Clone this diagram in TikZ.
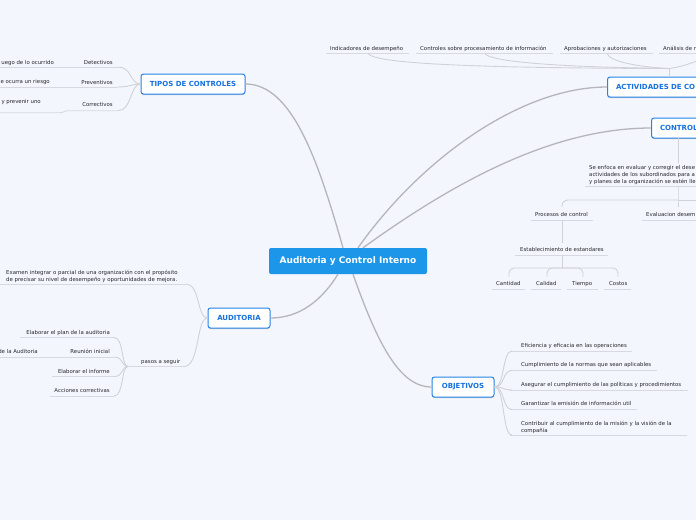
\documentclass[tikz,border=0pt]{standalone}
\usepackage{fontspec}
\setmainfont{DejaVu Sans}
\usetikzlibrary{shadows}
\definecolor{bgc}{RGB}{243,246,253}
\definecolor{cblue}{RGB}{27,150,232}
\definecolor{tborder}{RGB}{38,132,230}
\definecolor{ttext}{RGB}{22,112,222}
\definecolor{ltext}{RGB}{40,40,45}
\definecolor{ulc}{RGB}{214,217,225}
\definecolor{cmain}{RGB}{182,182,186}
\definecolor{csub}{RGB}{208,210,216}
\begin{document}
\begin{tikzpicture}[x=1pt,y=-1pt,
  centernode/.style={fill=cblue, rounded corners=2pt, text=white, font=\fontsize{9}{11}\selectfont\bfseries, minimum width=158pt, minimum height=26pt, inner sep=0pt},
  topic/.style={draw=tborder, line width=1pt, fill=white, rounded corners=2.5pt, text=ttext, font=\fontsize{7}{8}\selectfont\bfseries, minimum height=20pt, inner xsep=8.5pt, inner ysep=0pt, drop shadow={shadow xshift=0pt, shadow yshift=-1.2pt, fill=black, opacity=0.18}},
  lbl/.style={font=\fontsize{5.4}{6.8}\selectfont, text=ltext, inner sep=0pt, yshift=-0.8pt},
  uline/.style={draw=ulc, line width=0.9pt},
  conn/.style={draw=cmain, line width=1.3pt},
  sconn/.style={draw=csub, line width=0.9pt}]
\useasboundingbox (0,0) rectangle (696,520);
\clip (0,0) rectangle (696,520);
\fill[bgc] (0,0) rectangle (696,520);

% ---------- main nodes
\node[centernode] (C) at (348,261) {Auditoria y Control Interno};
\node[topic, minimum width=104pt] (T) at (193,84) {TIPOS DE CONTROLES};
\node[topic, minimum width=62pt] (A) at (239,318) {AUDITORIA};
\node[topic, minimum width=62pt] (O) at (463,387) {OBJETIVOS};
\node[topic, anchor=west, text width=100pt, align=left] (AC) at (607,87) {ACTIVIDADES DE CO};
\node[topic, anchor=west, text width=60pt, align=left] (CO) at (651,128) {CONTROL};

% ---------- main connectors
\draw[conn] ([xshift=-5pt]C.north) .. controls (318,160) and (292,84) .. (T.east);
\draw[conn] ([xshift=10pt]C.north) .. controls (420,160) and (520,87) .. (AC.west);
\draw[conn] ([xshift=15pt]C.north) .. controls (450,185) and (550,128) .. (CO.west);
\draw[conn] ([xshift=-10pt]C.south) .. controls (322,300) and (300,318) .. (A.east);
\draw[conn] ([xshift=5pt]C.south) .. controls (378,345) and (400,387) .. (O.west);

% ---------- ACTIVIDADES DE CONTROL children
\node[lbl, anchor=base west] (L1) at (330,49.5) {Indicadores de desempeño};
\node[lbl, anchor=base west] (L2) at (420,49.5) {Controles sobre procesamiento de información};
\node[lbl, anchor=base west] (L3) at (564,49.5) {Aprobaciones y autorizaciones};
\node[lbl, anchor=base west] (L4) at (663,49.5) {Análisis de r};
\draw[uline] (326,53.5) -- (409,53.5);
\draw[uline] (416,53.5) -- (553,53.5);
\draw[uline] (560,53.5) -- (653,53.5);
\draw[uline] (659,53.5) -- (700,53.5);
\coordinate (L1c) at (368,53.5);
\coordinate (L2c) at (485,53.5);
\coordinate (L3c) at (607,53.5);
\coordinate (L4c) at (720,53.5);
\coordinate (ACt) at (669,77);
\coordinate (J1) at (669,68.5);
\draw[sconn] (ACt) -- (J1);
\draw[sconn] (J1) .. controls (480,68) and (375,64) .. (L1c);
\draw[sconn] (J1) .. controls (560,67) and (490,62) .. (L2c);
\draw[sconn] (J1) .. controls (640,67) and (610,62) .. (L3c);
\draw[sconn] (J1) .. controls (690,66) and (705,56) .. (L4c);

% ---------- CONTROL children
\coordinate (COb) at (678,138);
\coordinate (Pt) at (678,163);
\node[lbl, anchor=north west, align=left] (P) at (589,164.5) {Se enfoca en evaluar y corregir el dese\\actividades de los subordinados para a\\y planes de la organización se estén lle};
\draw[uline] (585,186) -- (700,186);
\draw[sconn] (COb) -- (Pt);
\coordinate (Pb) at (678,186);
\coordinate (J2) at (678,200);
\coordinate (PRt) at (562,207);
\coordinate (EVt) at (678,207);
\coordinate (Rt) at (700,200);
\draw[sconn] (Pb) -- (J2) -- (EVt);
\draw[sconn] (J2) -- (Rt);
\draw[sconn, rounded corners=6pt] (J2) -- (562,200) -- (PRt);
\node[lbl, anchor=base west] (PR) at (535,215.5) {Procesos de control};
\node[lbl, anchor=base west] (EV) at (646,215.5) {Evaluacion desem};
\draw[uline] (531,220) -- (593,220);
\draw[uline] (642,220) -- (700,220);
\coordinate (PRb) at (562,220);
\coordinate (ESt) at (562,243);
\draw[sconn] (PRb) -- (ESt);
\node[lbl, anchor=base west] (ES) at (520,250.5) {Establecimiento de estandares};
\draw[uline] (515,255) -- (608,255);
\coordinate (ESb) at (562,255);
\coordinate (J3) at (562,268);
\draw[sconn] (ESb) -- (J3);
\coordinate (K1) at (509,277);
\coordinate (K2) at (547,277);
\coordinate (K3) at (583,277);
\coordinate (K4) at (618,277);
\draw[sconn, rounded corners=5pt] (J3) -- (509,268) -- (K1);
\draw[sconn, rounded corners=5pt] (J3) -- (547,268) -- (K2);
\draw[sconn, rounded corners=5pt] (J3) -- (583,268) -- (K3);
\draw[sconn, rounded corners=5pt] (J3) -- (618,268) -- (K4);
\node[lbl, anchor=base west] (S1) at (496,284.5) {Cantidad};
\node[lbl, anchor=base west] (S2) at (536,284.5) {Calidad};
\node[lbl, anchor=base west] (S3) at (572,284.5) {Tiempo};
\node[lbl, anchor=base west] (S4) at (609,284.5) {Costos};
\draw[uline] (492,289) -- (525,289);
\draw[uline] (531,289) -- (561,289);
\draw[uline] (567,289) -- (598,289);
\draw[uline] (604,289) -- (631,289);

% ---------- TIPOS DE CONTROLES children
\node[lbl, anchor=base east] (D) at (113,63.5) {Detectivos};
\node[lbl, anchor=base east] (D1) at (54,63.5) {uego de lo ocurrido};
\node[lbl, anchor=base east] (PV) at (113,83.5) {Preventivos};
\node[lbl, anchor=base east] (PV1) at (50,83) {e ocurra un riesgo};
\node[lbl, anchor=base east] (CR) at (113,105.5) {Correctivos};
\node[lbl, anchor=base east] (CR1) at (41,102.5) {y prevenir uno};
\draw[uline] (0,67) -- (118,67);
\draw[uline] (0,87) -- (118,87);
\draw[uline] (0,112.7) -- (60,112.7) .. controls (64,112.7) and (64,110.7) .. (68,110.7) -- (118,110.7);
\coordinate (De) at (118,67);
\coordinate (PVe) at (118,87);
\coordinate (CRe) at (118,110.7);
\draw[sconn] (De) .. controls (132,67) and (130,84) .. (T.west);
\draw[sconn] (PVe) .. controls (130,87) and (131,84) .. (T.west);
\draw[sconn] (CRe) .. controls (132,110.7) and (130,84) .. (T.west);

% ---------- AUDITORIA children
\node[lbl, anchor=north west, align=left] (E) at (6,269.5) {Examen integrar o parcial de una organización con el propósito\\de precisar su nivel de desempeño y oportunidades de mejora.};
\draw[uline] (0,284) -- (186,284);
\coordinate (Ee) at (186,284);
\draw[sconn] (Ee) .. controls (200,284) and (197,318) .. (A.west);
\node[lbl, anchor=base west] (PS) at (141,362.5) {pasos a seguir};
\draw[uline] (128,366.5) -- (184,366.5);
\coordinate (PSe) at (184,366.5);
\coordinate (PSw) at (128,366.5);
\draw[sconn] (PSe) .. controls (200,366.5) and (196,318) .. (A.west);
\node[lbl, anchor=base east] (G1) at (110,333.5) {Elaborar el plan de la auditoria};
\node[lbl, anchor=base east] (G2) at (110,352.5) {Reunión inicial};
\node[lbl, anchor=base east] (G2a) at (38,352.5) {de la Auditoria};
\node[lbl, anchor=base east] (G3) at (110,372.5) {Elaborar el informe};
\node[lbl, anchor=base east] (G4) at (110,391.5) {Acciones correctivas};
\draw[uline] (20,337.5) -- (114,337.5);
\draw[uline] (0,357) -- (114,357);
\draw[uline] (52,376.5) -- (114,376.5);
\draw[uline] (50,396) -- (114,396);
\coordinate (G1e) at (114,337.5);
\coordinate (G2e) at (114,357);
\coordinate (G3e) at (114,376.5);
\coordinate (G4e) at (114,396);
\draw[sconn] (PSw) .. controls (121,366.5) and (124,337.5) .. (G1e);
\draw[sconn] (PSw) .. controls (121,366.5) and (124,357) .. (G2e);
\draw[sconn] (PSw) .. controls (121,366.5) and (124,376.5) .. (G3e);
\draw[sconn] (PSw) .. controls (121,366.5) and (124,396) .. (G4e);

% ---------- OBJETIVOS children
\node[lbl, anchor=base west] (B1) at (521,346.5) {Eficiencia y eficacia en las operaciones};
\node[lbl, anchor=base west] (B2) at (521,366) {Cumplimiento de la normas que sean aplicables};
\node[lbl, anchor=base west] (B3) at (521,385.5) {Asegurar el cumplimiento de las políticas y procedimientos};
\node[lbl, anchor=base west] (B4) at (521,405) {Garantizar la emisión de información util};
\node[lbl, anchor=north west, align=left] (B5) at (521,420.3) {Contribuir al cumplimiento de la misión y la visión de la\\compañía};
\draw[uline] (510,351) -- (632,351);
\draw[uline] (510,370.5) -- (657,370.5);
\draw[uline] (510,390) -- (688,390);
\draw[uline] (510,409.5) -- (637,409.5);
\draw[uline] (510,435) -- (687,435);
\coordinate (B1w) at (512,351);
\coordinate (B2w) at (512,370.5);
\coordinate (B3w) at (512,390);
\coordinate (B4w) at (512,409.5);
\coordinate (B5w) at (512,435);
\draw[sconn] (O.east) .. controls (505,387) and (502,351) .. (B1w);
\draw[sconn] (O.east) .. controls (505,387) and (502,370.5) .. (B2w);
\draw[sconn] (O.east) .. controls (505,387) and (502,390) .. (B3w);
\draw[sconn] (O.east) .. controls (505,387) and (502,409.5) .. (B4w);
\draw[sconn] (O.east) .. controls (505,387) and (502,435) .. (B5w);
\end{tikzpicture}
\end{document}
